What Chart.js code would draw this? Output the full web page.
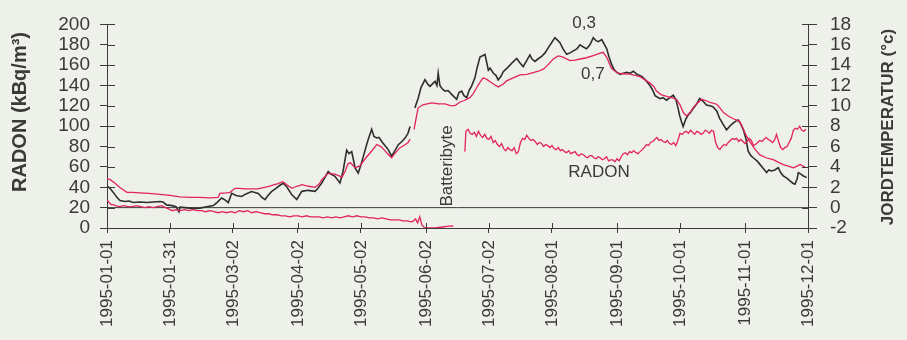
<!DOCTYPE html>
<html>
<head>
<meta charset="utf-8">
<script src="https://cdn.jsdelivr.net/npm/chart.js@4.4.1/dist/chart.umd.min.js"></script>
<style>
  html, body { margin: 0; padding: 0; background: #eef0ea; }
  #wrap { width: 907px; height: 340px; }
  canvas { display: block; }
</style>
</head>
<body>
<div id="wrap"><canvas id="chart" width="907" height="340"></canvas></div>
<script>
// X axis: days counted from 1995-01-01
const tickDays   = [0, 30, 60, 91, 121, 152, 182, 212, 243, 273, 304, 334];
const tickLabels = ['1995-01-01', '1995-01-31', '1995-03-02', '1995-04-02', '1995-05-02', '1995-06-02',
                    '1995-07-02', '1995-08-01', '1995-09-01', '1995-10-01', '1995-11-01', '1995-12-01'];

// Soil temperature at 0,3 m depth (°C)
const t03Days = [
  0, 1.4, 3, 4.8, 6.2, 8.6, 10.5, 12.5, 15.7, 19,
  22, 25.3, 26.7, 28.4, 31, 32.9, 34.3, 34.8, 37.2, 41.1,
  44.3, 47.5, 50.6, 52.4, 54.6, 56.2, 57.8, 59.4, 61.5, 64.2,
  66.2, 68.9, 72.1, 73.8, 75.3, 76.7, 78.5, 80.5, 82.4, 84,
  85.8, 88, 90.4, 92.8, 95.8, 99.1, 100.5, 102.3, 103.9, 105.4,
  106.7, 108.6, 111, 112.4, 114.2, 115.3, 116.6, 118.2, 119.7, 121,
  122.9, 124.3, 126.1, 127.2, 128.5, 129.6, 130.9, 132.4, 134, 135.6,
  137.2, 138.8, 140.5, 142, 143.4, 144.4, 145.3, 146.7, 148.3, 149.6,
  151.5, 152.9, 153.9, 155.3, 156.3, 157.2, 157.8, 158.6, 159.6, 161,
  162.5, 164.2, 165.3, 166.6, 167.7, 169, 170.1, 171.4, 172.5, 173.7,
  175.3, 176.3, 177.7, 180.1, 181.7, 182.5, 184.1, 185.3, 186.4, 187.7,
  188.8, 190.1, 192, 193.4, 195.2, 196.8, 198.3, 200.1, 201.5, 202.5,
  203.9, 205.3, 207.1, 208.7, 210.2, 211.5, 213.4, 214.4, 215.8, 217.3,
  219, 220.6, 222.2, 223.9, 225.4, 226.8, 228.5, 230.1, 231.7, 233,
  234.1, 235.7, 236.8, 238.1, 239.2, 240.4, 241.5, 242.8, 244.4, 246,
  247.7, 249.2, 250.8, 252.5, 254.8, 256.3, 258.7, 260.1, 261.1, 263.5,
  264.9, 266.6, 268.2, 269.8, 271.1, 272.1, 272.9, 273.7, 274.5, 275.8,
  276.9, 278.2, 279.3, 281, 282.4, 283.8, 285.6, 287.2, 288.7, 290.5,
  291.9, 293.5, 295.2, 296.7, 298.3, 299.6, 300.8, 302, 303.2, 304.4,
  305.5, 306.8, 307.9, 309.7, 311.1, 312.5, 314.3, 315.3, 316.6, 318.2,
  319.8, 321.1, 322.2, 323.9, 325.4, 326.8, 327.8, 328.8, 329.4, 330.6,
  331.8, 333.4
];
const t03Temp = [
  2.15, 1.9, 1.5, 1.0, 0.7, 0.6, 0.65, 0.5, 0.55, 0.5,
  0.55, 0.6, 0.55, 0.27, 0.2, 0.1, -0.4, 0.05, 0.0, -0.1,
  -0.05, 0.08, 0.2, 0.5, 0.95, 0.77, 0.5, 1.41, 1.2, 1.1,
  1.35, 1.58, 1.4, 1.0, 0.79, 1.2, 1.6, 1.9, 2.2, 2.4,
  2.0, 1.28, 0.8, 1.6, 1.7, 1.6, 1.9, 2.41, 3.0, 3.55,
  3.3, 3.07, 2.42, 3.5, 5.65, 5.3, 5.5, 3.9, 3.4, 4.2,
  5.6, 6.6, 7.7, 7.0, 6.85, 6.9, 6.5, 6.1, 5.7, 5.05,
  5.6, 6.18, 6.5, 6.83, 7.3, 7.97, null, 9.8, 10.77, 11.8,
  12.57, 12.1, 11.92, 12.2, 12.4, 12.0, 13.2, 12.0, 11.7, 11.45,
  11.5, 11.13, 10.9, 10.64, 11.3, 11.45, 11.0, 10.8, 11.5, 11.94,
  12.75, 13.7, 14.8, 15.05, 13.5, 13.7, 13.2, 13.0, 12.55, 12.9,
  13.35, 13.6, 14.0, 14.3, 14.65, 14.2, 13.85, 14.5, 15.0, 14.6,
  14.37, 14.6, 14.86, 15.2, 15.7, 16.1, 16.7, 16.5, 16.2, 15.6,
  15.06, 15.2, 15.4, 15.6, 16.0, 15.8, 15.6, 16.0, 16.7, 16.4,
  16.3, 16.5, 16.1, 15.6, 14.8, 14.1, 13.6, 13.3, 13.1, 13.2,
  13.3, 13.2, 13.4, 13.1, 12.9, 12.6, 12.0, 11.5, 11.0, 10.7,
  10.8, 10.55, 10.8, 11.05, 10.6, 9.75, 9.0, 8.46, 7.97, 8.7,
  9.1, 9.4, 9.75, 10.2, 10.72, 10.5, 10.07, 10.0, 9.92, 9.5,
  8.77, 8.2, 7.64, 8.0, 8.3, 8.5, 8.6, 8.2, 7.64, 6.8,
  5.54, 5.1, 4.9, 4.6, 4.25, 3.9, 3.45, 3.7, 3.6, 3.7,
  3.93, 3.4, 3.12, 2.9, 2.63, 2.4, 2.3, 2.8, 3.44, 3.3,
  3.11, 2.95
];

// Soil temperature at 0,7 m depth (°C)
const t07Days = [
  0, 1.5, 3.8, 6, 9.5, 12, 15.7, 20, 25.3, 30,
  34.8, 40, 44, 49, 52.9, 53.8, 57, 58.6, 61, 63,
  65.7, 68, 71.9, 74, 76.7, 79, 81.5, 83.8, 86, 88.1,
  90.5, 92.9, 96, 99.1, 101, 102.4, 105.3, 108.6, 112, 113.5,
  114.8, 116, 118.2, 120.5, 123, 126.1, 128.5, 130.5, 131.5, 133.9,
  135.6, 137.5, 139.6, 141.5, 143.4, 144.4, 145.3, 146.3, 147.3, 148.2,
  150.5, 152.5, 154.8, 158, 161, 164, 166, 168.2, 170, 172.9,
  174.5, 176.1, 178, 179.3, 181, 182.5, 184.5, 186.4, 188.5, 190.4,
  193, 196.8, 200, 203.1, 205.5, 207.9, 210, 212.6, 215, 217,
  220.6, 223, 225.4, 228, 231.7, 234, 236.4, 238.1, 240.4, 243.6,
  246, 249.2, 251.5, 253.9, 256, 258.7, 260.5, 261.9, 264, 266.6,
  269, 271.4, 273, 274.6, 276.2, 278, 279.3, 281.5, 283.3, 285.5,
  287.3, 290.5, 292, 293.6, 296, 298.4, 300, 301.6, 303, 304.5,
  306.3, 308.5, 311.1, 314, 317.4, 320, 322.2, 325, 327, 329,
  330.2, 332.6
];
const t07Temp = [
  2.85, 2.75, 2.4, 2.0, 1.5, 1.5, 1.45, 1.4, 1.3, 1.2,
  1.05, 1.0, 1.0, 0.95, 1.0, 1.4, 1.45, 1.5, 1.9, 1.9,
  1.85, 1.85, 1.85, 1.95, 2.07, 2.2, 2.35, 2.55, 2.2, 1.9,
  2.1, 2.25, 2.1, 2.0, 2.3, 2.75, 3.37, 3.3, 3.0, 3.6,
  4.3, 4.4, 3.93, 4.1, 4.8, 5.56, 6.2, 6.0, 5.8, 5.25,
  4.9, 5.4, 5.89, 6.1, 6.38, 6.74, null, 7.68, 8.8, 9.78,
  10.1, 10.2, 10.3, 10.2, 10.2, 10.0, 10.05, 10.38, 10.5, 10.8,
  11.2, 11.78, 12.4, 12.76, 12.6, 12.37, 12.1, 11.86, 12.1, 12.45,
  12.7, 13.04, 13.1, 13.27, 13.4, 13.6, 14.0, 14.6, 14.9, 14.8,
  14.44, 14.5, 14.6, 14.7, 14.94, 15.1, 15.26, 14.77, 13.66, 13.18,
  13.15, 13.12, 13.0, 12.86, 12.6, 12.23, 11.9, 11.42, 11.1, 10.94,
  10.8, 10.63, 10.1, 9.34, 9.0, 9.4, 9.83, 10.3, 10.64, 10.5,
  10.33, 10.16, 9.8, 9.37, 9.0, 8.73, 8.6, 8.41, 7.8, 7.1,
  6.48, 5.8, 5.18, 4.9, 4.71, 4.45, 4.22, 4.05, 3.91, 4.1,
  4.24, 3.98
];

// Radon concentration (kBq/m³), before the battery change
const radonDaysA = [
  0, 1, 2, 3, 4, 6, 8, 10, 12, 14,
  16, 18, 20, 22, 24, 26, 28, 30, 31, 33,
  35, 37, 39, 41, 43, 45, 47, 49, 51, 53,
  55, 57, 59, 61, 63, 65, 67, 69, 71, 73,
  75, 77, 79, 81, 83, 85, 87, 89, 91, 93,
  95, 97, 99, 101, 103, 105, 107, 109, 111, 113,
  115, 117, 119, 121, 123, 125, 127, 129, 131, 133,
  135, 137, 139, 141, 143, 145, 146, 147, 148, 149,
  150, 151, 152, 154, 156, 158, 160, 162, 164, 165
];
const radonA = [
  28, 25, 23, 23, 22, 21, 22, 21, 21, 22,
  21, 20, 21, 20, 21, 22, 20, 18, 17, 18,
  17, 18, 17, 18, 17, 17, 16, 17, 16, 15,
  16, 15, 16, 15, 17, 16, 17, 15, 16, 15,
  14, 14, 13, 13, 12, 12, 11, 12, 12, 11,
  12, 11, 11, 11, 10, 11, 10, 11, 10, 11,
  12, 11, 12, 11, 11, 10, 10, 9, 10, 9,
  8, 8, 8, 7, 7, 6, 7, 9, 5, 11,
  3, 1, 0, 0, 0, 0.5, 1, 1.5, 2, 1.8
];

// Radon after the battery change: first reading, then one value per day from day 171
const radonRestartDay = 170.5;
const radonRestart = 75;
const radonDailyFrom = 171;
const radonB = [
  95, 97, 93, 92, 94, 90, 95, 91, 89, 92,
  88, 87, 90, 84, 86, 82, 80, 83, 78, 76,
  79, 77, 76, 79, 73, 75, 84, 88, 87, 91,
  88, 86, 87, 85, 82, 84, 83, 80, 82, 81,
  79, 81, 78, 77, 79, 76, 77, 75, 74, 76,
  73, 74, 75, 72, 71, 73, 72, 70, 69, 71,
  71, 69, 68, 70, 69, 67, 68, 70, 66, 67,
  67, 65, 68, 66, 70, 73, 74, 72, 75, 74,
  76, 74, 73, 75, 77, 79, 82, 81, 84, 85,
  87, 89, 86, 87, 85, 84, 86, 83, 82, 84,
  81, 86, 93, 92, 94, 95, 93, 96, 94, 92,
  95, 94, 92, 93, 96, 95, 93, 96, 95, 84,
  79, 77, 80, 82, 81, 84, 86, 88, 87, 88,
  85, 87, 85, 83, 85, 88, 86, 81, 82, 84,
  86, 85, 87, 89, 87, 86, 84, 86, 92, 85,
  79, 77, 79, 80, 84, 88, 96, 98, 97, 100,
  96, 95, 97
];

// 0 °C reference line
const zeroLineDays = [0, 334];
const zeroLineTemp = [0, 0];

const BG = '#eef0ea';
const INK = '#3a3a3a';
const RED = '#e2245a';
const DARK = '#2e2e2e';
const FONT = "'Liberation Sans', Arial, Helvetica, sans-serif";

const pts = (xs, ys) => xs.map((x, i) => ({ x: x, y: ys[i] }));

const radonPoints = pts(radonDaysA, radonA)
  .concat([{ x: 168, y: null }, { x: radonRestartDay, y: radonRestart }])
  .concat(radonB.map((v, i) => ({ x: radonDailyFrom + i, y: v })));

// Text placed in the plot, anchored in data units
const notes = [
  { text: '0,3', day: 227.3, value: 18.1, axis: 'y1', rot: 0 },
  { text: '0,7', day: 231.5, value: 13.1, axis: 'y1', rot: 0 },
  { text: 'RADON', day: 234.4, value: 55, axis: 'y', rot: 0 },
  { text: 'Batteribyte', day: 162.2, value: 61, axis: 'y', rot: -Math.PI / 2 }
];

const background = {
  id: 'background',
  beforeDraw(chart) {
    const c = chart.ctx;
    c.save();
    c.fillStyle = BG;
    c.fillRect(0, 0, chart.width, chart.height);
    c.restore();
  }
};

// Tick marks cross the axis lines: draw the inner half
const innerTicks = {
  id: 'innerTicks',
  afterDraw(chart) {
    const c = chart.ctx, a = chart.chartArea, s = chart.scales;
    c.save();
    c.strokeStyle = INK;
    c.lineWidth = 1;
    c.beginPath();
    s.y.ticks.forEach(t => {
      const y = Math.round(s.y.getPixelForValue(t.value)) + 0.5;
      c.moveTo(a.left, y); c.lineTo(a.left + 8, y);
    });
    s.y1.ticks.forEach(t => {
      const y = Math.round(s.y1.getPixelForValue(t.value)) + 0.5;
      c.moveTo(a.right - 6, y); c.lineTo(a.right, y);
    });
    s.x.ticks.forEach(t => {
      const x = Math.round(s.x.getPixelForValue(t.value)) + 0.5;
      c.moveTo(x, a.bottom); c.lineTo(x, a.bottom - 5);
    });
    c.stroke();
    c.restore();
  }
};

const labels = {
  id: 'labels',
  afterDraw(chart) {
    const c = chart.ctx, s = chart.scales;
    c.save();
    c.fillStyle = INK;
    c.textAlign = 'center';
    c.textBaseline = 'middle';
    // axis titles
    c.font = 'bold 20px ' + FONT;
    c.save(); c.translate(20, 112); c.rotate(-Math.PI / 2); c.fillText('RADON (kBq/m³)', 0, 0); c.restore();
    c.font = 'bold 17px ' + FONT;
    c.save(); c.translate(888, 127); c.rotate(-Math.PI / 2); c.fillText('JORDTEMPERATUR (°c)', 0, 0); c.restore();
    // in-plot notes
    c.font = '17px ' + FONT;
    notes.forEach(n => {
      const x = s.x.getPixelForValue(n.day);
      const y = s[n.axis].getPixelForValue(n.value);
      c.save(); c.translate(x, y); c.rotate(n.rot); c.fillText(n.text, 0, 0); c.restore();
    });
    c.restore();
  }
};

new Chart(document.getElementById('chart'), {
  type: 'line',
  data: {
    datasets: [
      { label: 'Radon', data: radonPoints, yAxisID: 'y', borderColor: RED, borderWidth: 1.3 },
      { label: '0,7 m', data: pts(t07Days, t07Temp), yAxisID: 'y1', borderColor: RED, borderWidth: 1.3 },
      { label: '0,3 m', data: pts(t03Days, t03Temp), yAxisID: 'y1', borderColor: DARK, borderWidth: 1.6 },
      { label: '0 °C', data: pts(zeroLineDays, zeroLineTemp), yAxisID: 'y1', borderColor: INK, borderWidth: 1 }
    ]
  },
  options: {
    responsive: false,
    animation: false,
    devicePixelRatio: 1,
    spanGaps: false,
    layout: { padding: { top: 22, left: 0, right: 0, bottom: 0 } },
    elements: { point: { radius: 0, hoverRadius: 0 }, line: { tension: 0 } },
    plugins: { legend: { display: false }, tooltip: { enabled: false } },
    scales: {
      x: {
        type: 'linear',
        min: 0, max: 334,
        afterBuildTicks: sc => { sc.ticks = tickDays.map(v => ({ value: v })); },
        afterFit: sc => { sc.height = 112; },
        ticks: {
          autoSkip: false, minRotation: 90, maxRotation: 90, padding: 7,
          color: INK, font: { family: FONT, size: 17 },
          callback: v => tickLabels[tickDays.indexOf(v)]
        },
        grid: { drawOnChartArea: false, tickLength: 5, color: INK, lineWidth: 1 },
        border: { color: INK, width: 1 }
      },
      y: {
        position: 'left',
        min: 0, max: 200,
        afterFit: sc => { sc.width = 107; },
        ticks: { stepSize: 20, autoSkip: false, padding: 10, color: INK, font: { family: FONT, size: 19 } },
        grid: { drawOnChartArea: false, tickLength: 7, color: INK, lineWidth: 1 },
        border: { color: INK, width: 1 }
      },
      y1: {
        position: 'right',
        min: -2, max: 18,
        afterFit: sc => { sc.width = 99; },
        ticks: { stepSize: 2, autoSkip: false, padding: 13, color: INK, font: { family: FONT, size: 19 } },
        grid: { drawOnChartArea: false, tickLength: 9, color: INK, lineWidth: 1 },
        border: { color: INK, width: 1 }
      }
    }
  },
  plugins: [background, innerTicks, labels]
});
</script>
</body>
</html>
